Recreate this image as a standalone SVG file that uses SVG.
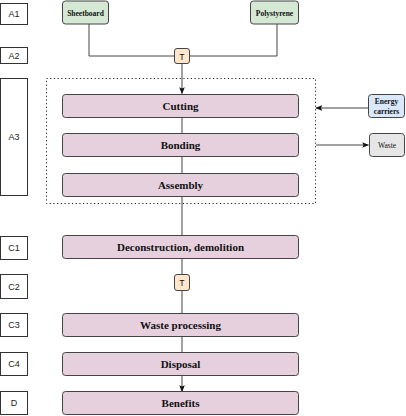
<svg xmlns="http://www.w3.org/2000/svg" width="406" height="416" viewBox="0 0 406 416">
<style>
.lab rect{fill:#fff;stroke:#333;stroke-width:1}
.lab text{font-family:"Liberation Sans",Arial,sans-serif;font-size:9px;fill:#222;text-anchor:middle}
.proc rect{fill:#e6d0de;stroke:#444;stroke-width:1}
.proc text{font-family:"Liberation Serif","Times New Roman",serif;font-weight:bold;font-size:11px;fill:#111;text-anchor:middle}
.mat rect{fill:#d5e8d4;stroke:#444;stroke-width:1}
.small{font-family:"Liberation Serif","Times New Roman",serif;font-size:7.5px;fill:#111;text-anchor:middle}
.t rect{fill:#ffe6cc;stroke:#444;stroke-width:1}
.t text{font-family:"Liberation Mono","Courier New",monospace;font-size:9px;fill:#111;text-anchor:middle}
.conn path{fill:none;stroke:#444;stroke-width:1}
</style>
<defs>
<marker id="arr" viewBox="0 0 10 10" refX="9" refY="5" markerWidth="7" markerHeight="7" orient="auto" markerUnits="userSpaceOnUse">
<path d="M0,1 L10,5 L0,9 L2,5 z" fill="#111"/>
</marker>
</defs>
<rect width="406" height="416" fill="#fff"/>
<g id="labels">
<g class="lab" id="lab-A1"><rect x="0.5" y="3.5" width="27" height="21"/><text x="14" y="17">A1</text></g>
<g class="lab" id="lab-A2"><rect x="0.5" y="47.5" width="27" height="16"/><text x="14" y="58.5">A2</text></g>
<g class="lab" id="lab-A3"><rect x="0.5" y="78.5" width="27" height="117"/><text x="14" y="140">A3</text></g>
<g class="lab" id="lab-C1"><rect x="0.5" y="236.5" width="27" height="23"/><text x="14" y="251">C1</text></g>
<g class="lab" id="lab-C2"><rect x="0.5" y="274.5" width="27" height="24"/><text x="14" y="289.5">C2</text></g>
<g class="lab" id="lab-C3"><rect x="0.5" y="313.5" width="27" height="23"/><text x="14" y="328">C3</text></g>
<g class="lab" id="lab-C4"><rect x="0.5" y="352.5" width="27" height="23"/><text x="14" y="367">C4</text></g>
<g class="lab" id="lab-D"><rect x="0.5" y="391.5" width="27" height="23"/><text x="14" y="406">D</text></g>
</g>
<g id="boundary"><rect x="46.5" y="78.5" width="269" height="125" fill="none" stroke="#222" stroke-width="1" stroke-dasharray="1.2,2.5"/></g>
<g class="conn" id="connectors">
<path d="M89,24 V56 H174"/>
<path d="M277,24 V56 H190"/>
<path d="M182,63 V93.5" marker-end="url(#arr)"/>
<path d="M182,118 V133"/>
<path d="M182,157 V173"/>
<path d="M182,196 V235"/>
<path d="M182,259 V274"/>
<path d="M182,291 V313"/>
<path d="M182,337 V353"/>
<path d="M182,376 V391.5" marker-end="url(#arr)"/>
<path d="M368,108 H316" marker-end="url(#arr)"/>
<path d="M316,145 H368.5" marker-end="url(#arr)"/>
</g>
<g class="mat" id="sheetboard"><rect x="62.5" y="1" width="46" height="23" rx="3"/><text class="small" x="85.5" y="15.5" font-weight="bold">Sheetboard</text></g>
<g class="mat" id="polystyrene"><rect x="250.5" y="1" width="48" height="23" rx="3"/><text class="small" x="274.5" y="15.5" font-weight="bold">Polystyrene</text></g>
<g class="t" id="t1"><rect x="174.5" y="48.5" width="15" height="15" rx="2.5"/><text x="182" y="59.5">T</text></g>
<g class="proc" id="cutting"><rect x="62.5" y="94.5" width="236" height="23" rx="3"/><text x="180.5" y="110">Cutting</text></g>
<g class="proc" id="bonding"><rect x="62.5" y="133.5" width="236" height="23" rx="3"/><text x="180.5" y="149">Bonding</text></g>
<g class="proc" id="assembly"><rect x="62.5" y="173.5" width="236" height="23" rx="3"/><text x="180.5" y="189">Assembly</text></g>
<g id="energy"><rect x="368.5" y="94.5" width="36" height="23" rx="3" fill="#dae8fc" stroke="#444"/><text class="small" x="386.5" y="104" font-weight="bold">Energy</text><text class="small" x="386.5" y="114" font-weight="bold">carriers</text></g>
<g id="waste"><rect x="369.5" y="133.5" width="35" height="23" rx="3" fill="#e6e6e6" stroke="#444"/><text class="small" x="387" y="148">Waste</text></g>
<g class="proc" id="deconstruction"><rect x="62.5" y="235.5" width="236" height="23" rx="3"/><text x="180.5" y="251">Deconstruction, demolition</text></g>
<g class="t" id="t2"><rect x="174.5" y="274.5" width="15" height="16" rx="2.5"/><text x="182" y="286">T</text></g>
<g class="proc" id="wasteproc"><rect x="62.5" y="313.5" width="236" height="23" rx="3"/><text x="180.5" y="329">Waste processing</text></g>
<g class="proc" id="disposal"><rect x="62.5" y="352.5" width="236" height="23" rx="3"/><text x="180.5" y="368">Disposal</text></g>
<g class="proc" id="benefits"><rect x="62.5" y="391.5" width="236" height="23" rx="3"/><text x="180.5" y="407">Benefits</text></g>
</svg>
